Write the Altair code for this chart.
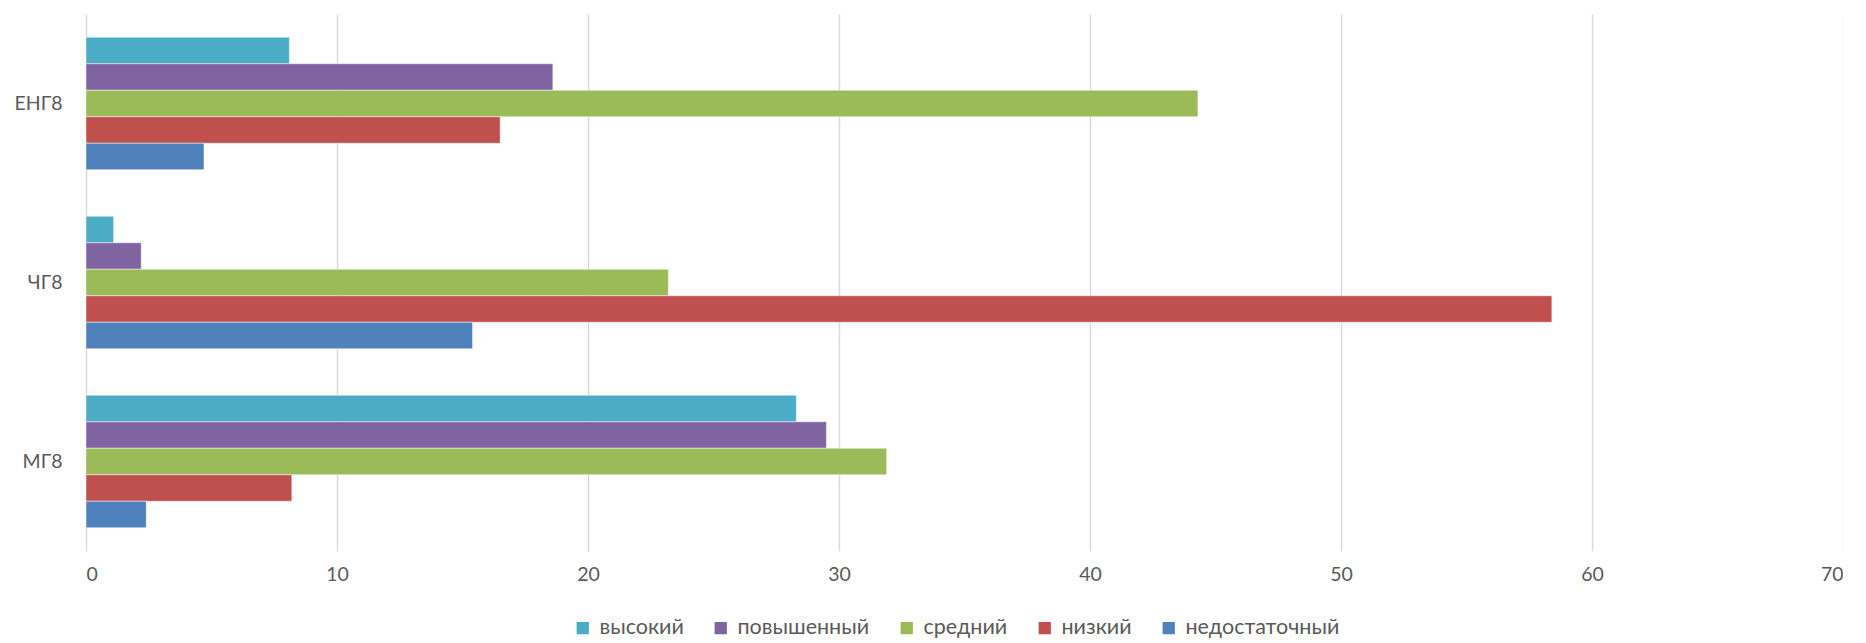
import altair as alt
import pandas as pd

categories = ["ЕНГ8", "ЧГ8", "МГ8"]
levels = ["высокий", "повышенный", "средний", "низкий", "недостаточный"]
colors = ["#4BACC6", "#8064A2", "#9BBB59", "#C0504D", "#4F81BD"]

# values per level, in the order of categories
vysokiy = [8.1, 1.1, 28.3]
povyshenny = [18.6, 2.2, 29.5]
sredniy = [44.3, 23.2, 31.9]
nizkiy = [16.5, 58.4, 8.2]
nedostatochny = [4.7, 15.4, 2.4]

series = [vysokiy, povyshenny, sredniy, nizkiy, nedostatochny]
rows = []
for lvl, vals in zip(levels, series):
    for cat, v in zip(categories, vals):
        rows.append({"category": cat, "level": lvl, "value": v})
df = pd.DataFrame(rows)

font = "Lato"

chart = alt.Chart(df).mark_bar(stroke="white", strokeWidth=0.8, strokeOpacity=0.6).encode(
    y=alt.Y("category:N", sort=categories, title=None,
            scale=alt.Scale(paddingInner=0.26, paddingOuter=0.13),
            axis=alt.Axis(labelFontSize=19.5, labelColor="#595959", labelFont=font,
                          ticks=False, domain=False, labelPadding=24,
                          minExtent=78, maxExtent=78)),
    yOffset=alt.YOffset("level:N", sort=levels, scale=alt.Scale(paddingInner=0, paddingOuter=0)),
    x=alt.X("value:Q", title=None,
            scale=alt.Scale(domain=[0, 70], nice=False),
            axis=alt.Axis(values=[0, 10, 20, 30, 40, 50, 60, 70], labelFontSize=19.5,
                          labelColor="#595959", labelFont=font, ticks=False, domain=False,
                          gridColor="#D9D9D9", gridWidth=1.5, labelPadding=14)),
    color=alt.Color("level:N", sort=levels,
                    scale=alt.Scale(domain=levels, range=colors),
                    legend=alt.Legend(title=None, orient="none", direction="horizontal",
                                      legendX=486, legendY=603,
                                      symbolType="square", symbolSize=150, symbolStrokeWidth=0,
                                      labelFontSize=21.5, labelColor="#595959", labelFont=font,
                                      columnPadding=26, labelOffset=6)),
).properties(
    width=1757, height=537, padding={"left": 0, "top": 6, "right": 0, "bottom": 0}
).configure_view(stroke=None).configure_axisY(grid=False)

chart.save("out.html", embed_options={"renderer": "svg", "actions": False})
